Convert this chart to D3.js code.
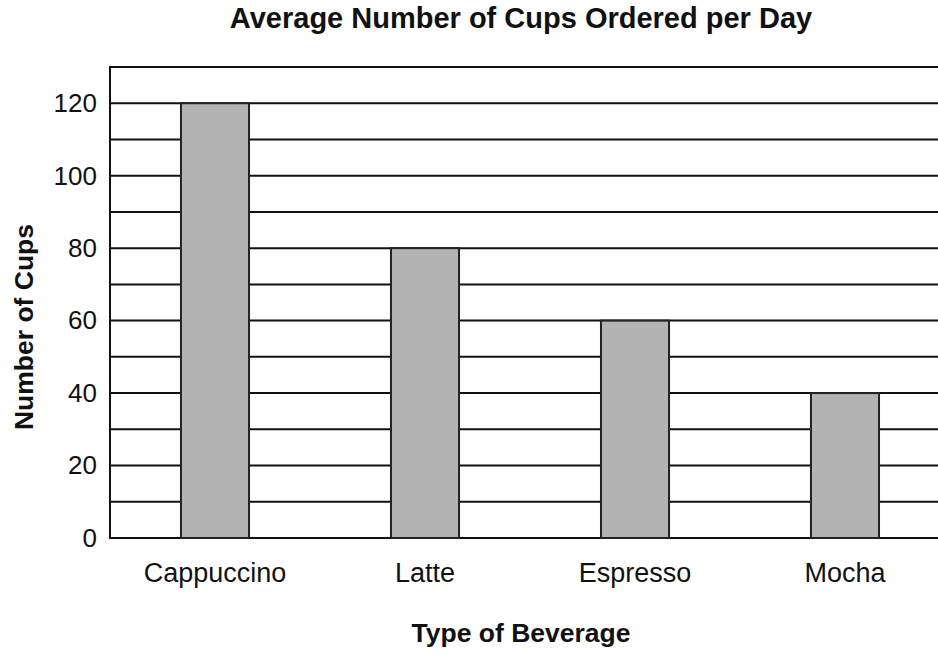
<!DOCTYPE html>
<html>
<head>
<meta charset="utf-8">
<script src="https://cdn.jsdelivr.net/npm/d3@7"></script>
<style>
    body { margin: 0; background: #fff; }
    svg { display: block; font-family: "Liberation Sans", Arial, sans-serif; }
</style>
</head>
<body>
<svg class="graphic__one"></svg>
<script>
// data
const beverages = ["Cappuccino", "Latte", "Espresso", "Mocha"];
const cups = [120, 80, 60, 40];
const yTicks = [0, 20, 40, 60, 80, 100, 120];
const gridValues = [0, 10, 20, 30, 40, 50, 60, 70, 80, 90, 100, 110, 120, 130];

const WIDTH = 938, HEIGHT = 654;
const MARGIN = { top: 67, bottom: 116, left: 110, right: -12 };

const $svg = d3.select('.graphic__one')
    .attr('width', WIDTH)
    .attr('height', HEIGHT);

// x scale - bands are 210px, plot runs off the right edge
const x = d3.scaleBand()
    .domain(beverages)
    .range([MARGIN.left, WIDTH - MARGIN.right])
    .paddingInner(0.676)
    .paddingOuter(0.338);

const y = d3.scaleLinear()
    .domain([0, 130])
    .range([HEIGHT - MARGIN.bottom, MARGIN.top]);

// gridlines (every 10)
$svg.append('g')
    .attr('class', 'grid')
    .selectAll('line')
    .data(gridValues)
    .join('line')
    .attr('x1', MARGIN.left)
    .attr('x2', WIDTH - MARGIN.right)
    .attr('y1', d => y(d))
    .attr('y2', d => y(d))
    .attr('stroke', '#111')
    .attr('stroke-width', 2);

// left axis line
$svg.append('line')
    .attr('x1', MARGIN.left)
    .attr('x2', MARGIN.left)
    .attr('y1', y(0) + 1)
    .attr('y2', y(130) - 1)
    .attr('stroke', '#111')
    .attr('stroke-width', 2);

// bars
$svg.append('g')
    .selectAll('rect')
    .data(beverages)
    .join('rect')
    .attr('x', d => x(d))
    .attr('y', (d, i) => y(cups[i]))
    .attr('width', x.bandwidth())
    .attr('height', (d, i) => y(0) - y(cups[i]))
    .attr('fill', '#b3b3b3')
    .attr('stroke', '#222')
    .attr('stroke-width', 2);

// y tick labels
$svg.append('g')
    .attr('class', 'y axis')
    .attr('transform', `translate(${MARGIN.left},0)`)
    .call(d3.axisLeft(y).tickValues(yTicks).tickSize(0).tickPadding(13))
    .call(g => g.select('.domain').remove())
    .call(g => g.selectAll('.tick text')
        .attr('font-size', 26)
        .attr('font-family', '"Liberation Sans", Arial, sans-serif')
        .attr('fill', '#111'));

// x category labels
$svg.append('g')
    .attr('class', 'x axis')
    .attr('transform', `translate(0,${y(0)})`)
    .call(d3.axisBottom(x).tickSize(0).tickPadding(25))
    .call(g => g.select('.domain').remove())
    .call(g => g.selectAll('.tick text')
        .attr('font-size', 27)
        .attr('font-family', '"Liberation Sans", Arial, sans-serif')
        .attr('fill', '#111'));

// title
$svg.append('text')
    .attr('x', 521)
    .attr('y', 28)
    .attr('text-anchor', 'middle')
    .attr('font-size', 29)
    .attr('font-weight', 'bold')
    .attr('fill', '#111')
    .text('Average Number of Cups Ordered per Day');

// axis titles
$svg.append('text')
    .attr('x', 521)
    .attr('y', 642)
    .attr('text-anchor', 'middle')
    .attr('font-size', 26.5)
    .attr('font-weight', 'bold')
    .attr('fill', '#111')
    .text('Type of Beverage');

$svg.append('text')
    .attr('transform', 'translate(33,327) rotate(-90)')
    .attr('text-anchor', 'middle')
    .attr('font-size', 26.5)
    .attr('font-weight', 'bold')
    .attr('fill', '#111')
    .text('Number of Cups');
</script>
</body>
</html>
